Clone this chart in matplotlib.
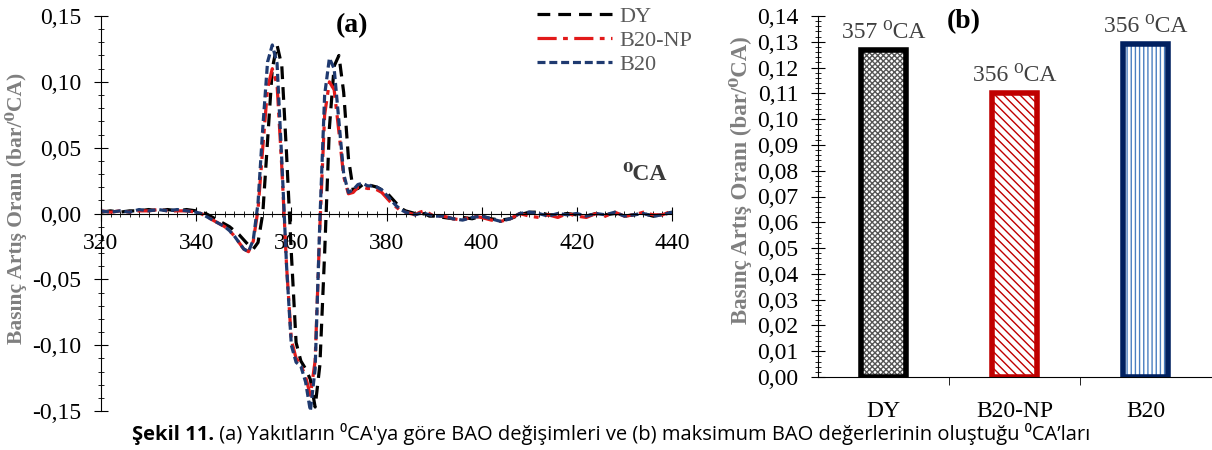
import numpy as np
import matplotlib
matplotlib.use("Agg")
import matplotlib.pyplot as plt
from matplotlib.ticker import MultipleLocator, FuncFormatter, FixedLocator

serif = ['Liberation Serif', 'DejaVu Serif']
plt.rcParams['font.family'] = serif

# crank angle grid (deg CA)
ca = ([320, 322, 324, 326, 328, 330, 332, 334, 336, 338]
      + list(range(340, 391))
      + [392, 394, 396, 398, 400, 402, 404, 406, 408, 410, 412, 414, 416,
         418, 420, 422, 424, 426, 428, 430, 432, 434, 436, 438, 440])

# pressure rise rate (bar/deg CA)
dy = [0.001, 0.002, 0.001, 0.002, 0.002, 0.003, 0.002, 0.003, 0.002, 0.003,
      # 340-390
      0.002, 0.001, 0.000, -0.002, -0.004, -0.006, -0.008, -0.010, -0.013, -0.016,
      -0.020, -0.024, -0.027, -0.022, 0.000, 0.055, 0.110, 0.128, 0.112, 0.045,
      -0.030, -0.098, -0.112, -0.118, -0.126, -0.147, -0.115, -0.030, 0.065, 0.112,
      0.120, 0.092, 0.042, 0.018, 0.019, 0.022, 0.022, 0.021, 0.020, 0.018,
      0.016, 0.012, 0.008, 0.004, 0.002, 0.001, 0.000, -0.001, 0.000, -0.002,
      -0.002,
      # 392-440
      -0.003, -0.004, -0.003, -0.004, -0.002, -0.004, -0.005, -0.004, -0.001, 0.001,
      0.001, -0.001, -0.001, 0.000, -0.001, -0.002, 0.000, -0.001, 0.000, -0.002,
      -0.001, 0.000, -0.002, -0.001, 0.001]

b20np = [0.002, 0.001, 0.002, 0.001, 0.002, 0.002, 0.003, 0.002, 0.002, 0.002,
         # 340-390
         0.001, 0.000, -0.002, -0.004, -0.006, -0.008, -0.010, -0.013, -0.017, -0.022,
         -0.027, -0.029, -0.021, 0.003, 0.050, 0.095, 0.110, 0.098, 0.035, -0.040,
         -0.096, -0.110, -0.115, -0.124, -0.138, -0.112, -0.010, 0.075, 0.100, 0.094,
         0.062, 0.028, 0.015, 0.016, 0.020, 0.020, 0.019, 0.019, 0.018, 0.016,
         0.012, 0.008, 0.005, 0.002, 0.001, 0.000, -0.001, 0.001, 0.002, 0.000,
         -0.002,
         # 392-440
         -0.002, -0.004, -0.005, -0.002, -0.003, -0.005, -0.006, -0.004, 0.000, -0.002,
         -0.003, -0.001, -0.003, 0.000, -0.002, -0.003, 0.000, -0.002, 0.001, -0.002,
         -0.001, 0.001, -0.001, -0.001, 0.002]

b20 = [0.002, 0.001, 0.002, 0.001, 0.003, 0.002, 0.003, 0.002, 0.003, 0.002,
       # 340-390
       0.001, 0.000, -0.002, -0.004, -0.006, -0.008, -0.010, -0.013, -0.017, -0.022,
       -0.027, -0.029, -0.020, 0.008, 0.065, 0.115, 0.128, 0.114, 0.040, -0.040,
       -0.100, -0.113, -0.116, -0.128, -0.150, -0.118, -0.005, 0.090, 0.118, 0.110,
       0.070, 0.030, 0.016, 0.018, 0.022, 0.023, 0.021, 0.021, 0.020, 0.018,
       0.014, 0.010, 0.006, 0.003, 0.001, 0.000, -0.001, 0.000, 0.000, -0.001,
       -0.002,
       # 392-440
       -0.002, -0.004, -0.005, -0.003, -0.002, -0.004, -0.006, -0.004, 0.000, 0.001,
       0.000, -0.002, 0.000, -0.001, 0.000, -0.002, 0.000, -0.001, 0.001, -0.002,
       -0.001, 0.000, -0.002, -0.001, 0.001]

series_names = ["DY", "B20-NP", "B20"]
max_bao = [0.127, 0.110, 0.129]
max_ca_labels = ["357 \u2070CA", "356 \u2070CA", "356 \u2070CA"]

comma = FuncFormatter(lambda v, p: ("%.2f" % v).replace(".", ","))
gray = "#7f7f7f"
ylab = "Basınç Artış Oranı (bar/\u2070CA)"

fig = plt.figure(figsize=(12.12, 4.5), dpi=100)

# ---- (a) line chart
ax = fig.add_axes([101 / 1212, 39 / 450, 571 / 1212, 395 / 450])
ax.plot(ca, dy, color="black", lw=2.3, linestyle=(0, (4, 2.5)), label="DY")
ax.plot(ca, b20np, color="#e21a1a", lw=2.3, linestyle=(0, (6, 2, 1.5, 2)), label="B20-NP")
ax.plot(ca, b20, color="#1f3a70", lw=2.3, linestyle=(0, (2.5, 1.2)), label="B20")
ax.set_xlim(320, 440)
ax.set_ylim(-0.15, 0.15)
ax.spines['top'].set_visible(False)
ax.spines['right'].set_visible(False)
ax.spines['bottom'].set_position(('data', 0))
ax.xaxis.set_major_locator(MultipleLocator(20))
ax.xaxis.set_minor_locator(MultipleLocator(2))
ax.yaxis.set_major_locator(MultipleLocator(0.05))
ax.yaxis.set_minor_locator(MultipleLocator(0.01))
ax.yaxis.set_major_formatter(comma)
ax.tick_params(which='both', direction='inout', labelsize=17)
ax.tick_params(which='major', length=10)
ax.tick_params(which='minor', length=5)
ax.tick_params(axis='x', pad=9)
ax.tick_params(axis='y', pad=9)
ax.set_ylabel(ylab, fontsize=15.5, fontweight='bold', color=gray, family=serif)
ax.yaxis.set_label_coords(-0.13, 0.514)
ax.text(0.44, 0.975, "(a)", transform=ax.transAxes, fontsize=20, fontweight='bold',
        ha='center', va='center')
ax.text(0.99, 0.60, "\u2070CA", transform=ax.transAxes, fontsize=17, fontweight='bold',
        ha='right', va='center', color="#3a3a3a", family=serif)
leg = ax.legend(loc='upper right', bbox_to_anchor=(1.07, 1.075), frameon=False,
                fontsize=16, handlelength=3.4, labelspacing=0.15, handletextpad=0.3)
for t in leg.get_texts():
    t.set_color("#595959")

# ---- (b) bar chart
bx = fig.add_axes([818 / 1212, 73 / 450, 393 / 1212, 361 / 450])
xpos = np.arange(len(series_names))
edges = ["black", "#c00000", "#002060"]
hatch_cols = ["#555555", "#c00000", "#4a7fc1"]
hatches = ["xxxxxx", "\\\\\\\\", "||||"]
for i in range(len(series_names)):
    bx.bar(xpos[i], max_bao[i], width=0.34, color="white", edgecolor=hatch_cols[i],
           hatch=hatches[i], linewidth=0)
    bx.bar(xpos[i], max_bao[i], width=0.34, fill=False, edgecolor=edges[i], linewidth=4)
    bx.annotate(max_ca_labels[i], (xpos[i], max_bao[i]), xytext=(0, 5),
                textcoords='offset points', ha='center', va='bottom', fontsize=17,
                color="#404040", family=serif)
bx.set_xlim(-0.5, 2.5)
bx.set_ylim(0, 0.14)
for s in ['top', 'right']:
    bx.spines[s].set_visible(False)
bx.set_xticks(xpos)
bx.set_xticklabels(series_names, fontsize=17)
bx.xaxis.set_minor_locator(FixedLocator([0.5, 1.5]))
bx.tick_params(axis='x', which='major', length=0, pad=17)
bx.tick_params(axis='x', which='minor', length=6, direction='out')
bx.yaxis.set_major_locator(MultipleLocator(0.01))
bx.yaxis.set_minor_locator(MultipleLocator(0.002))
bx.yaxis.set_major_formatter(comma)
bx.tick_params(axis='y', which='both', direction='inout', labelsize=17, pad=9)
bx.tick_params(axis='y', which='major', length=10)
bx.tick_params(axis='y', which='minor', length=5)
bx.set_ylabel(ylab, fontsize=16.5, fontweight='bold', color=gray, family=serif)
bx.yaxis.set_label_coords(-0.168, 0.546)
bx.text(0.37, 0.985, "(b)", transform=bx.transAxes, fontsize=20, fontweight='bold',
        ha='center', va='center')

# ---- caption
cap_font = ['Open Sans', 'DejaVu Sans']
bold = fig.text(132 / 1212, 0.012, "Şekil 11.", fontsize=14.5, fontweight='bold',
                family=cap_font, va='bottom', ha='left')
fig.add_artist(plt.Annotation(
    " (a) Yakıtların \u2070CA'ya göre BAO değişimleri ve (b) maksimum BAO değerlerinin oluştuğu \u2070CA’ları",
    xy=(1, 0), xycoords=bold, va='bottom', ha='left', fontsize=14.5, family=cap_font))

fig.savefig("out.png", dpi=100)
